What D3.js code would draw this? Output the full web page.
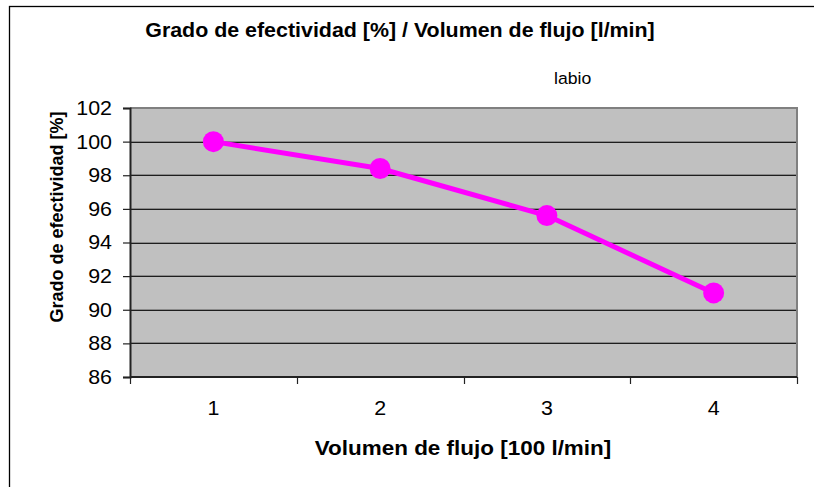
<!DOCTYPE html>
<html>
<head>
<meta charset="utf-8">
<script src="https://cdn.jsdelivr.net/npm/d3@7"></script>
<style>
  html, body { margin: 0; padding: 0; background: #fff; }
  svg { display: block; }
  text { font-family: "Liberation Sans", Arial, sans-serif; fill: #000; }
</style>
</head>
<body>
<svg id="chart" width="814" height="487"></svg>
<script>
// Data: effectiveness (%) per flow volume (x100 l/min)
const categories = ["1", "2", "3", "4"];
const efectividad = [100, 98.4, 95.6, 91.0];
const yTicks = [86, 88, 90, 92, 94, 96, 98, 100, 102];
const seriesName = "labio";

const W = 814, H = 487;
const plot = { left: 130, right: 797, top: 108, bottom: 377 };
const STRETCH = 1.07;   // slightly wide lettering
const FONT = "Liberation Sans, Arial, sans-serif";

const svg = d3.select("#chart");

// Chart frame (only top and left edges fall inside the canvas)
svg.append("rect")
  .attr("x", 9.5).attr("y", 6.5)
  .attr("width", W).attr("height", H)
  .attr("fill", "#fff").attr("stroke", "#000").attr("stroke-width", 1.3);

const x = d3.scaleBand().domain(categories).range([plot.left, plot.right]).padding(0);
const y = d3.scaleLinear().domain([86, 102]).range([plot.bottom, plot.top]);

// Plot background
svg.append("rect")
  .attr("x", plot.left).attr("y", plot.top)
  .attr("width", plot.right - plot.left).attr("height", plot.bottom - plot.top)
  .attr("fill", "#c0c0c0");

// Gridlines
const grid = svg.append("g");
yTicks.filter(t => t > 86 && t < 102).forEach(t => {
  const yy = Math.round(y(t));
  grid.append("line").attr("x1", plot.left).attr("x2", plot.right)
    .attr("y1", yy - 0.5).attr("y2", yy - 0.5).attr("stroke", "#8a8a8a").attr("stroke-width", 1);
  grid.append("line").attr("x1", plot.left).attr("x2", plot.right)
    .attr("y1", yy + 0.5).attr("y2", yy + 0.5).attr("stroke", "#1e1e1e").attr("stroke-width", 1);
});

// Top and right plot border
svg.append("path")
  .attr("d", `M${plot.left},${plot.top} H${plot.right} V${plot.bottom}`)
  .attr("fill", "none").attr("stroke", "#808080").attr("stroke-width", 2);

// Widen tick labels around their anchor point
function stretchTickText(sel) {
  sel.each(function () {
    const t = d3.select(this);
    const tx = +t.attr("x") || 0;
    const ty = +t.attr("y") || 0;
    t.attr("x", 0).attr("y", 0)
      .attr("transform", `translate(${tx},${ty}) scale(${STRETCH},1)`)
      .style("font-size", "20px").style("font-family", FONT);
  });
}

// Y axis
const yAxis = d3.axisLeft(y).tickValues(yTicks).tickSize(7).tickPadding(11).tickFormat(d3.format("d"));
const gy = svg.append("g").attr("transform", `translate(${plot.left},0)`).call(yAxis);
gy.select(".domain").attr("stroke", "#222").attr("stroke-width", 2);
gy.selectAll(".tick line").attr("stroke", "#222").attr("stroke-width", 1.2);
gy.selectAll(".tick text").call(stretchTickText);

// X axis: labels at band centres, tick marks at band edges
const xAxis = d3.axisBottom(x).tickSize(0).tickPadding(24);
const gx = svg.append("g").attr("transform", `translate(0,${plot.bottom})`).call(xAxis);
gx.select(".domain").remove();
gx.selectAll(".tick text").call(stretchTickText);
svg.append("line").attr("x1", plot.left).attr("x2", plot.right)
  .attr("y1", plot.bottom).attr("y2", plot.bottom).attr("stroke", "#222").attr("stroke-width", 2);
const edges = categories.map(c => x(c)).concat([x(categories[categories.length - 1]) + x.bandwidth()]);
svg.append("g").selectAll("line").data(edges).join("line")
  .attr("x1", d => Math.round(d) + 0.5).attr("x2", d => Math.round(d) + 0.5)
  .attr("y1", plot.bottom).attr("y2", plot.bottom + 7)
  .attr("stroke", "#222").attr("stroke-width", 1.2);

// Series line and markers
const pts = categories.map((c, i) => [x(c) + x.bandwidth() / 2, y(efectividad[i])]);
svg.append("path")
  .attr("d", d3.line()(pts))
  .attr("fill", "none").attr("stroke", "#ff00ff").attr("stroke-width", 5)
  .attr("stroke-linejoin", "round");
svg.append("g").selectAll("circle").data(pts).join("circle")
  .attr("cx", d => d[0]).attr("cy", d => d[1]).attr("r", 10.5)
  .attr("fill", "#ff00ff");

// Titles
svg.append("text")
  .attr("transform", `translate(400,37) scale(${STRETCH},1)`)
  .attr("text-anchor", "middle")
  .style("font-size", "20px").style("font-weight", "bold")
  .text("Grado de efectividad [%] / Volumen de flujo [l/min]");

svg.append("text")
  .attr("transform", `translate(554,84) scale(${STRETCH},1)`)
  .style("font-size", "16.5px")
  .text(seriesName);

svg.append("text")
  .attr("transform", `translate(463,455) scale(${STRETCH},1)`)
  .attr("text-anchor", "middle")
  .style("font-size", "21px").style("font-weight", "bold")
  .text("Volumen de flujo [100 l/min]");

svg.append("text")
  .attr("transform", `translate(63,217) scale(${STRETCH},1) rotate(-90)`)
  .attr("text-anchor", "middle")
  .style("font-size", "18px").style("font-weight", "bold")
  .text("Grado de efectividad [%]");
</script>
</body>
</html>
